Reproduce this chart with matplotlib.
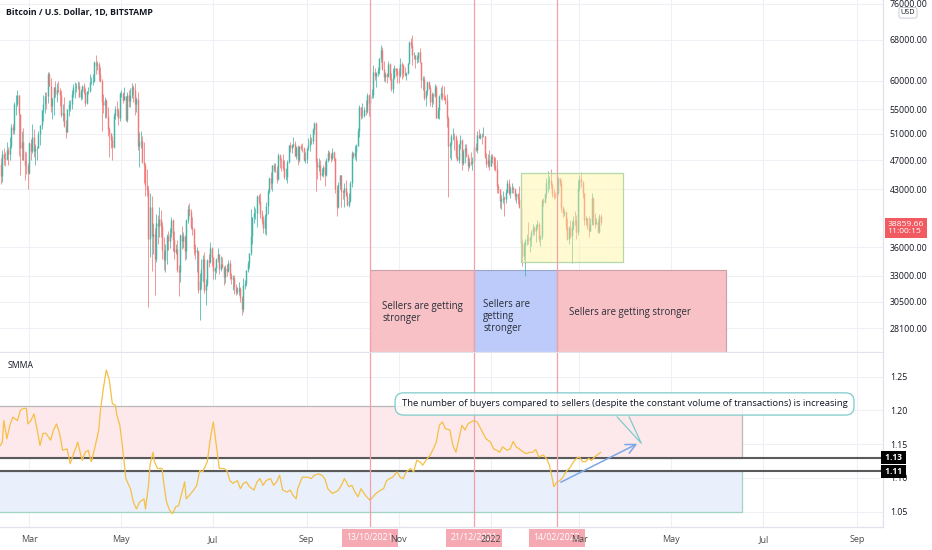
import numpy as np
import matplotlib
matplotlib.use('Agg')
import matplotlib.pyplot as plt
import matplotlib.dates as mdates
from matplotlib.patches import Rectangle
from matplotlib.transforms import blended_transform_factory as blend

plt.rcParams['font.family'] = ['Open Sans', 'DejaVu Sans']

# ---------------- data (prices in thousand USD) ----------------
first_date = '2021-02-09'
first_open = 46.2
closes = [
 46.4, 44.8, 47.9, 47.4, 47.2, 48.6, 47.9, 49.1, 52.1, 51.6, 55.9, 55.9, 57.5, 54.2, 48.8, 49.7, 47.1, 46.3, 46.2, 45.2,
 49.6, 48.4, 50.5, 48.4, 48.8, 48.9, 51.0, 52.4, 54.9, 55.9, 57.3, 57.2, 61.2, 59.0, 55.6, 56.9, 58.9, 57.6, 58.3, 58.1, 57.4, 54.1, 54.3, 52.3, 51.3, 55.0, 55.8, 55.8, 57.6, 58.8, 58.8,
 59.0, 59.0, 57.1, 58.2, 59.1, 58.0, 56.0, 58.1, 58.1, 59.8, 59.8, 59.9, 63.6, 62.9, 63.2, 61.3, 60.0, 56.2, 55.7, 56.5, 53.8, 51.7, 51.1, 50.1, 49.0, 54.0, 55.0, 54.8, 53.6, 57.8,
 57.8, 56.6, 57.2, 53.2, 57.5, 56.4, 57.4, 58.9, 58.3, 55.8, 56.7, 49.2, 49.7, 49.9, 46.8, 46.4, 43.6, 42.9, 37.0, 40.7, 37.3, 37.5, 34.7, 38.8, 38.4, 39.3, 38.5, 35.7, 34.6, 35.7, 37.3,
 36.7, 37.6, 39.2, 36.8, 35.5, 35.8, 33.6, 33.4, 37.4, 36.7, 37.3, 35.6, 39.1, 40.5, 40.1, 38.3, 38.1, 35.8, 35.5, 35.6, 31.6, 32.5, 33.7, 34.7, 31.6, 32.2, 34.6, 34.4, 35.9, 35.0,
 33.5, 33.8, 34.7, 35.3, 33.7, 34.2, 33.9, 32.9, 33.8, 33.5, 34.3, 33.1, 32.7, 32.8, 31.9, 31.4, 31.5, 31.8, 30.8, 29.8, 32.1, 32.3, 33.6, 34.3, 35.4, 37.3, 39.5, 40.0, 40.0, 42.2, 41.5,
 39.9, 39.2, 38.2, 39.7, 40.9, 42.8, 44.6, 43.8, 46.3, 45.6, 45.6, 44.4, 47.8, 47.1, 47.0, 45.9, 44.7, 44.7, 46.8, 49.3, 48.9, 49.3, 49.5, 47.7, 49.0, 47.0, 49.1, 48.9, 48.8, 47.0, 47.2,
 48.8, 49.3, 50.0, 49.9, 51.8, 52.7, 46.8, 46.1, 46.4, 44.9, 45.2, 46.1, 44.9, 47.1, 48.1, 47.8, 47.3, 48.3, 47.3, 43.0, 40.7, 43.6, 44.9, 42.8, 42.7, 43.2, 42.2, 41.0, 41.5, 43.8,
 48.1, 47.7, 48.2, 49.2, 51.5, 55.3, 53.8, 53.9, 54.9, 54.7, 57.5, 56.0, 57.4, 57.4, 61.7, 60.9, 61.5, 62.0, 64.3, 66.0, 62.2, 60.7, 61.3, 60.9, 63.1, 60.4, 58.5, 60.6, 62.3, 61.9, 61.3,
 61.0, 63.2, 62.9, 61.4, 61.0, 61.5, 63.3, 67.6, 66.9, 64.9, 64.9, 64.2, 64.4, 65.5, 63.6, 60.1, 60.4, 56.9, 58.1, 59.7, 58.7, 56.3, 57.6, 57.2, 58.9, 53.6, 54.8, 57.3, 57.8, 57.0,
 56.9, 56.5, 53.6, 49.2, 49.4, 50.6, 50.6, 50.5, 47.6, 47.1, 49.4, 50.1, 46.7, 48.4, 48.9, 47.6, 46.2, 46.8, 46.7, 46.9, 49.0, 48.6, 50.8, 50.4, 50.8, 50.6, 50.6, 47.5, 46.5, 47.1, 46.2,
 47.7, 47.3, 46.4, 45.8, 43.4, 43.1, 41.5, 41.7, 41.9, 41.8, 42.7, 43.9, 42.6, 43.1, 43.2, 43.1, 42.2, 42.4, 41.7, 40.7, 36.5, 35.1, 36.3, 36.7, 36.9, 36.8, 37.2, 37.7, 38.2, 37.9, 38.5,
 38.7, 36.9, 37.3, 41.6, 41.4, 42.4, 43.8, 44.1, 44.3, 43.6, 42.4, 42.2, 42.1, 42.6, 44.6, 43.9, 40.6, 40.0, 40.1, 38.4, 37.0, 38.2, 37.3, 38.3, 39.2, 39.1, 37.7, 43.2,
 44.4, 44.0, 42.5, 39.1, 39.4, 38.4, 37.9, 38.7, 41.9, 39.4, 38.7, 38.9, 37.8, 39.7, 38.86]
highs = [
 48.1, 47.3, 48.6, 48.9, 48.2, 49.7, 49.0, 50.5, 52.6, 52.5, 56.3, 57.5, 58.3, 57.5, 54.2, 51.4, 51.9, 48.4, 48.3, 46.6,
 49.8, 50.2, 52.6, 51.8, 49.4, 49.2, 51.4, 52.4, 54.9, 57.4, 58.0, 57.9, 61.7, 61.6, 60.5, 56.9, 58.9, 60.0, 59.5, 59.9, 58.6, 58.4, 55.8, 57.1, 53.2, 55.1, 56.6, 56.5, 58.4, 59.4, 59.8,
 59.5, 60.0, 59.8, 58.5, 59.3, 59.5, 58.7, 58.2, 58.9, 61.3, 60.7, 61.2, 63.8, 64.9, 63.8, 63.6, 62.6, 60.4, 57.6, 57.0, 56.8, 55.4, 52.1, 51.2, 50.6, 54.4, 55.5, 56.4, 55.2, 57.9,
 58.4, 57.9, 58.9, 57.1, 57.9, 58.4, 58.6, 59.5, 59.3, 59.6, 57.0, 58.0, 51.3, 51.5, 50.7, 49.8, 46.6, 45.8, 43.5, 42.5, 42.2, 38.8, 38.2, 39.9, 39.8, 40.8, 40.4, 38.9, 37.2, 36.4, 37.5,
 37.9, 38.2, 39.5, 39.3, 37.9, 36.4, 36.8, 34.1, 37.5, 38.4, 37.7, 37.4, 39.3, 41.0, 41.3, 40.5, 39.5, 38.2, 36.4, 36.1, 35.7, 33.3, 34.8, 35.2, 35.5, 32.7, 34.7, 35.3, 36.6, 36.0,
 35.0, 33.9, 34.9, 35.9, 35.3, 35.1, 35.0, 34.0, 34.1, 34.2, 34.6, 34.6, 33.3, 33.1, 33.1, 32.2, 31.9, 32.4, 31.9, 31.0, 32.8, 32.6, 33.6, 34.5, 35.4, 40.5, 39.5, 40.9, 40.6, 42.3, 42.4,
 42.6, 40.4, 39.7, 39.9, 41.4, 43.0, 44.7, 45.3, 46.4, 46.7, 46.7, 46.2, 48.1, 48.0, 47.4, 48.0, 47.1, 45.9, 47.0, 49.3, 49.8, 49.5, 50.5, 49.9, 49.2, 49.3, 49.2, 49.5, 49.6, 49.0, 48.3,
 48.9, 50.4, 51.0, 50.5, 51.9, 52.8, 52.9, 47.3, 47.3, 47.1, 45.9, 46.4, 46.9, 47.3, 48.5, 48.4, 48.1, 48.8, 48.4, 47.3, 43.6, 44.0, 44.9, 45.0, 42.9, 43.9, 44.3, 42.7, 42.6, 44.1,
 48.4, 48.3, 49.3, 49.5, 51.9, 55.7, 55.3, 56.1, 55.4, 56.5, 57.8, 57.7, 57.5, 58.5, 62.9, 62.3, 61.7, 62.6, 64.4, 67.0, 66.6, 63.7, 61.7, 61.4, 63.7, 63.3, 61.4, 62.4, 62.9, 62.3, 62.4,
 62.4, 64.3, 63.5, 63.1, 62.6, 61.6, 63.3, 67.8, 68.5, 69.0, 65.6, 65.0, 64.9, 65.5, 66.4, 63.6, 60.8, 60.9, 58.4, 59.9, 60.0, 59.3, 58.0, 57.8, 59.4, 59.2, 55.3, 57.4, 58.9, 59.2,
 59.1, 57.4, 57.6, 53.9, 49.7, 50.9, 51.9, 51.2, 50.8, 50.1, 49.5, 50.8, 50.2, 48.7, 49.5, 49.4, 48.0, 47.3, 48.3, 47.5, 49.3, 49.6, 51.4, 51.8, 51.2, 51.2, 52.0, 50.7, 48.1, 47.9, 48.6,
 47.9, 47.9, 47.6, 47.5, 47.1, 43.7, 43.1, 42.3, 42.8, 42.2, 43.1, 44.3, 44.4, 43.4, 43.8, 43.5, 43.2, 42.6, 42.5, 43.5, 41.1, 36.8, 36.6, 37.0, 37.5, 38.9, 37.2, 38.0, 38.7, 38.4, 38.7,
 39.2, 38.9, 37.4, 41.7, 41.9, 42.6, 44.5, 45.5, 44.8, 45.8, 43.9, 43.0, 42.7, 42.9, 44.7, 44.6, 44.2, 40.9, 40.5, 40.2, 39.4, 38.4, 39.2, 39.0, 39.7, 40.2, 39.8, 44.2,
 45.0, 45.4, 44.1, 42.6, 39.6, 39.4, 39.6, 39.4, 42.6, 42.0, 40.0, 39.4, 39.3, 39.9, 39.9]
lows = [
 45.0, 43.7, 44.0, 46.3, 46.2, 47.0, 46.3, 47.1, 48.9, 50.9, 50.9, 54.0, 55.5, 47.6, 45.0, 47.1, 47.0, 44.2, 45.1, 43.0,
 45.1, 47.1, 48.1, 47.5, 46.3, 47.1, 48.9, 49.3, 51.8, 53.1, 54.3, 55.1, 56.1, 59.0, 54.6, 53.3, 54.1, 57.0, 56.3, 57.9, 55.5, 53.7, 53.1, 52.0, 50.4, 51.3, 53.9, 54.7, 55.0, 57.1, 56.9,
 58.0, 58.5, 57.0, 56.5, 56.8, 57.7, 55.5, 55.8, 57.7, 57.9, 59.4, 59.3, 59.8, 61.3, 62.0, 60.0, 59.7, 51.5, 54.3, 53.5, 53.6, 50.6, 47.5, 48.8, 47.0, 48.9, 53.3, 53.9, 52.4, 53.1,
 57.0, 56.0, 56.5, 53.0, 52.9, 55.3, 55.3, 56.9, 56.3, 54.0, 54.5, 48.6, 46.0, 48.9, 46.6, 43.8, 42.1, 42.2, 30.0, 35.0, 33.5, 35.3, 31.1, 34.4, 36.4, 37.2, 37.2, 34.7, 33.6, 33.4, 34.2,
 35.7, 35.9, 37.2, 35.6, 34.8, 35.3, 33.4, 31.0, 32.4, 35.8, 35.9, 34.6, 34.8, 38.8, 39.6, 38.1, 37.4, 35.2, 34.8, 33.4, 31.3, 28.8, 31.7, 32.4, 31.3, 30.2, 32.0, 33.9, 34.3, 34.0,
 32.7, 32.7, 33.3, 34.4, 33.2, 33.5, 33.8, 32.1, 32.3, 33.0, 33.4, 32.7, 32.2, 31.6, 31.2, 31.1, 31.2, 31.1, 30.5, 29.3, 29.5, 31.7, 32.0, 33.4, 33.8, 35.2, 36.4, 38.8, 39.3, 38.3, 41.1,
 39.4, 38.7, 37.6, 37.5, 37.4, 39.9, 42.5, 43.1, 42.8, 45.3, 45.3, 43.8, 44.2, 45.9, 45.5, 45.6, 44.4, 44.2, 43.9, 46.6, 48.3, 48.1, 49.0, 47.6, 47.2, 46.4, 46.8, 48.5, 48.3, 46.9, 46.7,
 46.7, 48.6, 48.4, 49.5, 49.5, 50.9, 42.8, 44.4, 45.5, 44.2, 44.8, 44.7, 43.4, 44.8, 46.8, 47.0, 46.8, 47.1, 46.9, 42.5, 39.6, 40.6, 43.1, 40.8, 41.8, 40.8, 42.1, 40.9, 40.8, 41.4,
 43.3, 47.4, 47.2, 46.9, 49.1, 50.5, 53.4, 53.6, 53.7, 54.1, 54.4, 53.9, 54.3, 56.9, 56.9, 60.2, 58.9, 60.8, 61.3, 63.5, 62.0, 60.0, 59.7, 59.6, 60.7, 60.1, 58.1, 57.8, 60.3, 60.8, 59.5,
 59.5, 60.7, 60.4, 60.7, 60.8, 60.1, 61.3, 63.1, 66.3, 63.0, 64.1, 62.3, 63.4, 63.6, 63.4, 58.6, 58.4, 56.5, 55.6, 57.4, 58.5, 55.6, 55.3, 55.9, 57.0, 53.5, 53.6, 53.3, 56.7, 56.5,
 56.5, 55.8, 52.0, 42.0, 47.4, 47.1, 50.1, 48.6, 47.3, 46.9, 46.7, 48.7, 45.7, 46.3, 46.6, 47.5, 45.5, 45.9, 46.4, 45.6, 46.7, 48.4, 48.1, 50.4, 50.2, 49.5, 50.5, 47.3, 46.1, 46.0, 45.7,
 46.2, 46.7, 45.7, 45.5, 42.6, 42.5, 40.6, 40.5, 41.2, 39.7, 41.3, 42.5, 42.3, 41.9, 42.6, 42.6, 41.6, 41.3, 41.1, 40.6, 35.5, 34.0, 34.6, 33.0, 36.3, 36.4, 35.5, 36.2, 37.4, 37.4, 36.6,
 38.1, 36.6, 36.2, 36.9, 40.9, 41.2, 41.9, 42.7, 43.1, 43.2, 42.0, 41.7, 41.9, 41.6, 42.4, 43.4, 40.1, 39.5, 39.7, 38.0, 36.8, 36.4, 37.1, 34.3, 38.0, 38.6, 37.0, 37.4,
 42.8, 43.3, 41.9, 38.6, 38.6, 38.1, 37.2, 37.9, 38.6, 38.6, 38.2, 38.7, 37.6, 37.6, 38.6]
last_price_label = '38859.66'
countdown_label = '11:00:15'

price_ticks = [76.0, 68.0, 60.0, 55.0, 51.0, 47.0, 43.0, 36.0, 33.0, 30.5, 28.1]
price_tick_labels = ['76000.00', '68000.00', '60000.00', '55000.00', '51000.00', '47000.00',
                     '43000.00', '36000.00', '33000.00', '30500.00', '28100.00']

# SMMA indicator: day index from first_date, value
smma_day = [0,2,3,5,7,9,12,14,16,18,19,21,23,25,27,29,31,34,36,38,40,42,45,47,49,51,52,55,57,59,61,63,66,67,69,71,73,75,77,78,
            80,82,84,87,89,91,93,96,97,99,100,102,103,105,108,109,111,113,115,117,119,121,123,124,126,129,131,
            133,135,138,140,142,144,146,149,151,153,155,158,160,162,164,166,169,171,173,175,177,180,182,184,186,188,191,193,195,197,
            198,201,203,205,207,209,212,214,216,218,221,223,225,227,229,232,234,236,238,240,243,245,246,248,250,253,255,257,259,261,264,266,
            268,270,273,275,277,279,281,284,286,288,290,292,294,296,299,301,303,305,307,309,311,313,315,317,319,321,323,326,328,330,
            332,334,337,339,341,343,345,348,350,352,354,356,358,361,363,365,366,368,370,372,374,376,379,381,383,385,387,389,391,393,395,398,399]
smma_val = [1.146,1.153,1.185,1.158,1.178,1.190,1.185,1.200,1.203,1.203,1.180,1.185,1.195,1.173,1.148,1.166,1.166,1.156,1.171,1.180,
            1.166,1.141,1.143,1.121,1.134,1.146,1.153,1.126,1.138,1.141,1.124,1.141,1.171,1.198,1.232,1.260,1.245,1.210,1.208,1.193,
            1.178,1.141,1.099,1.084,1.064,1.054,1.064,1.069,1.054,1.089,1.119,1.138,1.124,1.114,1.114,1.094,1.064,1.052,1.047,1.057,
            1.059,1.077,1.094,1.069,1.074,1.082,1.089,
            1.111,1.109,1.124,1.158,1.183,1.148,1.114,1.114,1.111,1.096,1.092,1.096,1.084,1.092,1.094,1.087,1.082,1.094,1.099,1.089,
            1.096,1.099,1.089,1.094,1.104,1.082,1.079,1.082,1.074,1.069,1.084,1.101,1.101,1.101,1.099,1.104,1.106,1.104,1.099,1.084,
            1.077,1.079,1.082,1.089,1.099,1.087,1.089,1.079,1.072,1.084,1.074,1.069,1.067,1.072,1.077,1.082,1.084,1.096,1.099,1.101,
            1.109,1.101,
            1.099,1.109,1.114,1.109,1.126,1.124,1.119,1.129,1.134,1.143,1.153,1.178,1.183,1.173,1.171,1.148,1.138,1.158,1.178,1.171,
            1.180,1.183,1.185,1.183,1.175,1.166,1.158,1.153,1.143,1.141,1.138,1.146,1.141,1.143,1.154,1.146,1.143,1.138,1.136,1.138,
            1.138,1.142,1.131,1.134,1.129,1.119,1.109,1.087,1.094,1.096,1.101,1.109,1.116,1.124,1.129,1.131,1.124,1.124,1.129,1.126,
            1.131,1.136,1.138]
smma_ticks = [1.05, 1.10, 1.15, 1.20, 1.25]
level_lines = [1.13, 1.11]
level_labels = ['1.13', '1.11']

month_ticks = ['2021-03-01', '2021-05-01', '2021-07-01', '2021-09-01', '2021-11-01',
               '2022-01-01', '2022-03-01', '2022-05-01', '2022-07-01', '2022-09-01']
month_labels = ['Mar', 'May', 'Jul', 'Sep', 'Nov', '2022', 'Mar', 'May', 'Jul', 'Sep']

event_dates = ['2021-10-13', '2021-12-21', '2022-02-14']
event_labels = ['13/10/2021', '21/12/2021', '14/02/2022']

zone_ends = ['2021-12-21', '2022-02-14', '2022-06-06']
zone_colors = ['#f7c1c6', '#bccbfa', '#f7c1c6']
zone_edges = ['#c9a0a5', '#98a6c8', '#c9a0a5']
zone_texts = ['Sellers are getting\nstronger', 'Sellers are\ngetting\nstronger', 'Sellers are getting stronger']
zone_text_days = [8, 6, 8]
zone_text_price = [29.45, 29.1, 29.5]
zone_bottom, zone_top = 25.0, 33.6

range_start, range_end = '2022-01-21', '2022-03-30'
range_low, range_high = 34.4, 45.2

band_end = '2022-06-17'
pink_band = (1.13, 1.207)
blue_band = (1.049, 1.11)

callout_text = ('The number of buyers compared to sellers (despite the constant volume '
                'of transactions) is increasing')
callout_date, callout_val = '2021-11-03', 1.2096
tail_dates = ['2022-03-26', '2022-04-11', '2022-04-03']
tail_vals = [1.1903, 1.1513, 1.1903]
arrow_dates = ['2022-02-15', '2022-04-10']
arrow_vals = [1.0918, 1.1525]

# ---------------- figure ----------------
W, H = 932, 550
fig = plt.figure(figsize=(W / 100, H / 100), dpi=100)
ax = fig.add_axes([0, 1 - 352 / H, 883 / W, 352 / H])
ax2 = fig.add_axes([0, 1 - 527 / H, 883 / W, (527 - 353) / H])

d0 = mdates.datestr2num(first_date)
n = len(closes)
x = d0 + np.arange(n)
c = np.array(closes)
o = np.concatenate([[first_open], c[:-1]])
hi = np.maximum(np.array(highs), np.maximum(o, c))
lo = np.minimum(np.array(lows), np.minimum(o, c))
up = c >= o
col = np.where(up, '#45b5a5', '#f07a7a')

GRID = '#eef0f5'
AXC = '#e0e3eb'
TXT = '#131722'

for a in (ax, ax2):
    a.set_xlim(d0 + 0.46, d0 + 586.4)
    a.set_axisbelow(True)
    a.set_xticks([mdates.datestr2num(t) for t in month_ticks])
    a.grid(True, color=GRID, lw=0.8)
    for s in ('top', 'left'):
        a.spines[s].set_visible(False)
    for s in ('right', 'bottom'):
        a.spines[s].set_color(AXC)
        a.spines[s].set_linewidth(0.9)
    a.yaxis.tick_right()
    a.tick_params(axis='y', length=0, pad=5, labelsize=6.3, labelcolor=TXT)
    a.set_facecolor('white')

# price pane
ax.set_yscale('log')
ax.set_ylim(26.13, 76.85)
ax.set_yticks(price_ticks)
ax.set_yticklabels(price_tick_labels)
ax.yaxis.set_minor_locator(matplotlib.ticker.NullLocator())
ax.tick_params(axis='x', length=0, labelbottom=False)

for s, e, fc, ec in zip(event_dates, zone_ends, zone_colors, zone_edges):
    xs, xe = mdates.datestr2num(s), mdates.datestr2num(e)
    ax.add_patch(Rectangle((xs, zone_bottom), xe - xs, zone_top - zone_bottom,
                           fc=fc, ec=ec, lw=0.8, zorder=1))
for s, t, dd, py in zip(event_dates, zone_texts, zone_text_days, zone_text_price):
    ax.text(mdates.datestr2num(s) + dd, py, t, ha='left', va='center', fontsize=6.9,
            color='#2a2e39', linespacing=1.12, zorder=3)

ax.vlines(x, lo, hi, colors=col, lw=0.55, zorder=4)
ax.vlines(x, np.minimum(o, c), np.maximum(o, c), colors=col, lw=1.05, zorder=4)

rs, re_ = mdates.datestr2num(range_start), mdates.datestr2num(range_end)
ax.add_patch(Rectangle((rs, range_low), re_ - rs, range_high - range_low,
                       fc='#fff59d', alpha=0.45, ec='none', zorder=5))
ax.add_patch(Rectangle((rs, range_low), re_ - rs, range_high - range_low,
                       fc='none', ec='#b3d9a8', lw=0.9, zorder=5))

for a in (ax, ax2):
    for dte in event_dates:
        a.axvline(mdates.datestr2num(dte), color='#f2a1aa', lw=0.9, zorder=6)

# current price label
ax.annotate(last_price_label + '\n' + countdown_label, xy=(1.0, c[-1]),
            xycoords=blend(ax.transAxes, ax.transData), xytext=(3.2, -4.0),
            textcoords='offset points', ha='left', va='center', fontsize=6.1,
            color='white', linespacing=1.1, annotation_clip=False,
            bbox=dict(boxstyle='square,pad=0.33', fc='#f05a60', ec='none'), zorder=10)

# SMMA pane
ax2.set_ylim(1.0273, 1.2851)
ax2.set_yticks(smma_ticks)
ax2.set_yticklabels(['%.2f' % v for v in smma_ticks])
ax2.set_xticklabels(month_labels)
ax2.tick_params(axis='x', length=0, pad=5.5, labelsize=6.5, labelcolor='#4a4a4a')

bx0, bx1 = d0 - 10, mdates.datestr2num(band_end)
ax2.add_patch(Rectangle((bx0, pink_band[0]), bx1 - bx0, pink_band[1] - pink_band[0],
                        fc='#fde9eb', ec='#b8b8b8', lw=0.9, zorder=1))
ax2.add_patch(Rectangle((bx0, blue_band[0]), bx1 - bx0, blue_band[1] - blue_band[0],
                        fc='#e9effb', ec='#9fd4c6', lw=0.9, zorder=1))
for lv in level_lines:
    ax2.axhline(lv, color='#5a5a5a', lw=1.5, zorder=2)

ax2.plot(d0 + np.array(smma_day), smma_val, color='#f5c044', lw=0.9, zorder=5)

ax2.plot([mdates.datestr2num(t) for t in tail_dates], tail_vals, color='#7fcbcb', lw=0.9, zorder=6)
ax2.text(mdates.datestr2num(callout_date), callout_val, callout_text, ha='left', va='center',
         fontsize=6.8, color=TXT, zorder=7,
         bbox=dict(boxstyle='round,pad=0.7,rounding_size=0.9', fc=(1, 1, 1, 0.8), ec='#7fcbcb', lw=0.9))
ax2.annotate('', xy=(mdates.datestr2num(arrow_dates[1]), arrow_vals[1]),
             xytext=(mdates.datestr2num(arrow_dates[0]), arrow_vals[0]),
             arrowprops=dict(arrowstyle='->,head_length=0.7,head_width=0.35', color='#7aa7ea', lw=1.1),
             zorder=7)

for lv, lab in zip(level_lines, level_labels):
    ax2.text(1.0, lv, ' ' + lab + ' ', transform=blend(ax2.transAxes, ax2.transData),
             ha='left', va='center', fontsize=6.0, color='white', fontweight='bold',
             clip_on=False, zorder=10,
             bbox=dict(boxstyle='square,pad=0.22', fc='#000000', ec='none'))

# event date labels on the time axis (drawn below the month labels)
for dte, lab in zip(event_dates, event_labels):
    ax2.text(mdates.datestr2num(dte), 1 - 538 / H, lab, transform=blend(ax2.transData, fig.transFigure),
             ha='center', va='center', fontsize=6.3, color='white', clip_on=False, zorder=0.3,
             bbox=dict(boxstyle='square,pad=0.55', fc='#f5a9b3', ec='none'))

# titles
fig.text(6 / W, 1 - 12 / H, 'Bitcoin / U.S. Dollar, 1D, BITSTAMP', ha='left', va='center',
         fontsize=6.3, color=TXT, fontweight='bold')
fig.text(8 / W, 1 - 366 / H, 'SMMA', ha='left', va='center', fontsize=6.2, color=TXT)
fig.text(908 / W, 1 - 12.8 / H, 'USD', ha='center', va='center', fontsize=5.2, color=TXT,
         bbox=dict(boxstyle='round,pad=0.25,rounding_size=0.3', fc='white', ec='#c8ccd4', lw=0.7))

fig.savefig('out.png', dpi=100, facecolor='white')
